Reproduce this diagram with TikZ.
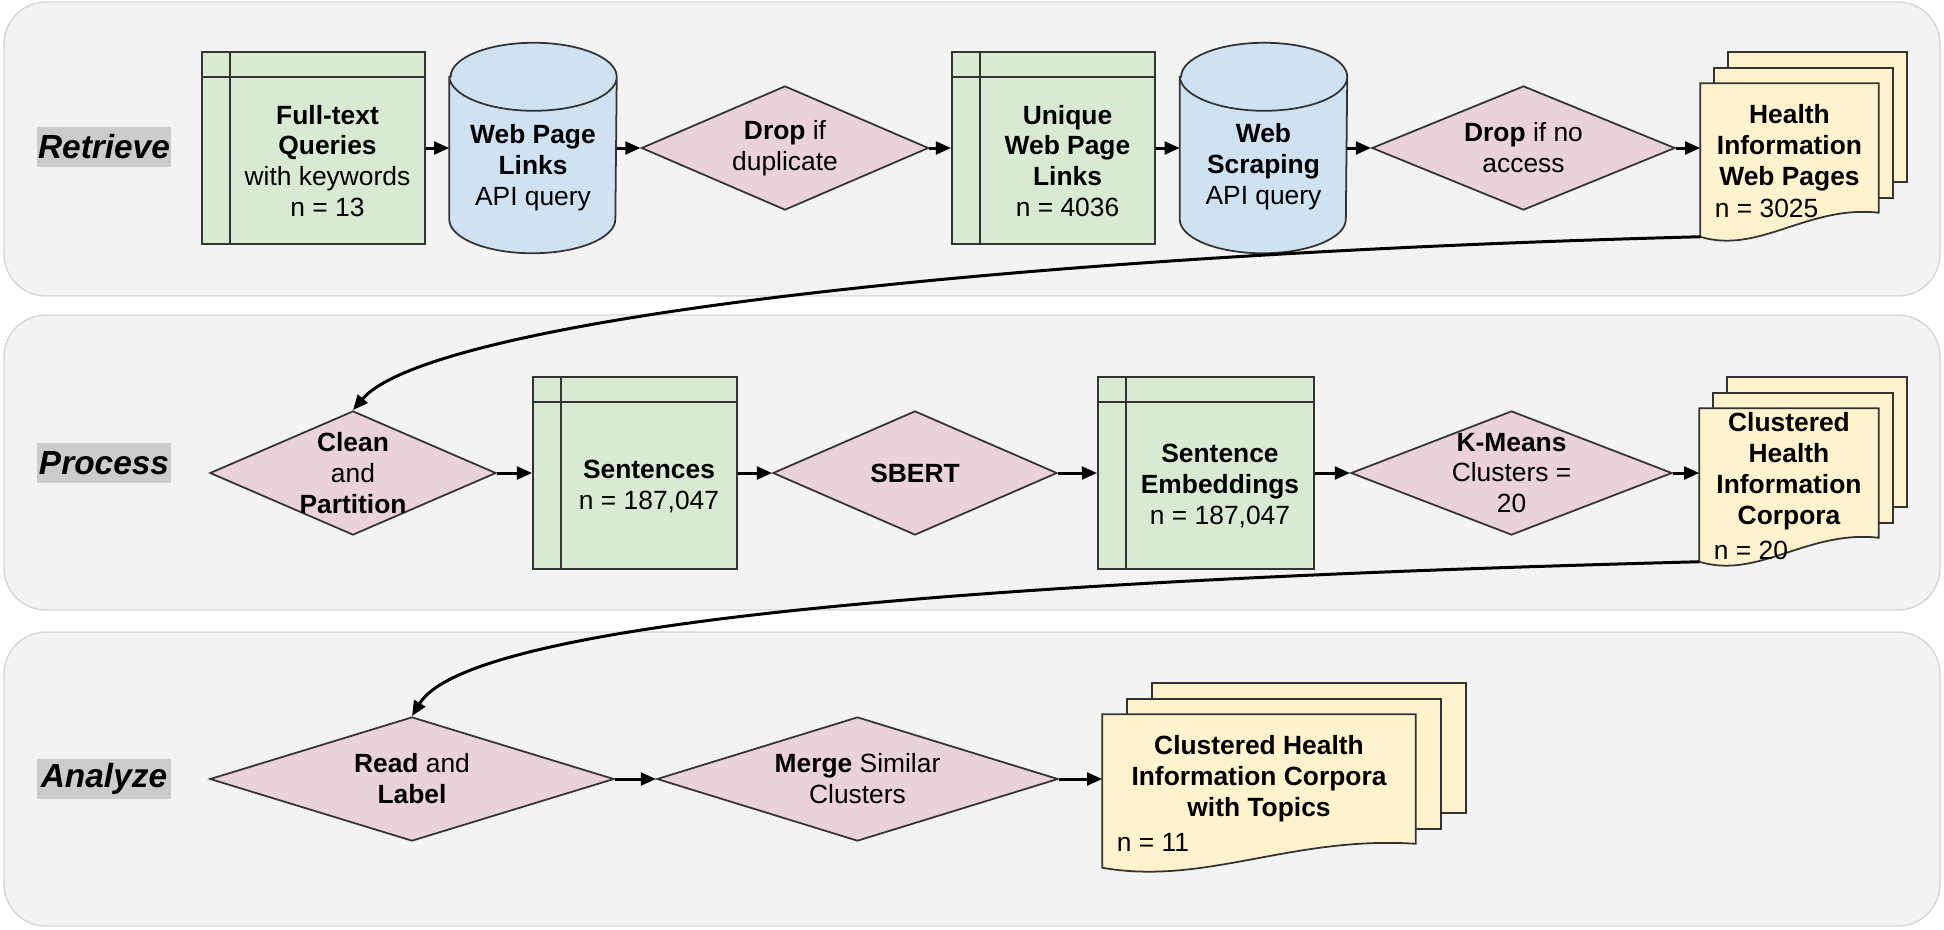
\documentclass[tikz,border=0pt]{standalone}
\usepackage{fontspec}
\setmainfont{Liberation Sans}
\usetikzlibrary{shapes.geometric,arrows.meta,calc}

\definecolor{panelfill}{HTML}{F3F3F3}
\definecolor{panelline}{HTML}{D6D6D6}
\definecolor{stagegray}{HTML}{CCCCCC}
\definecolor{storegreen}{HTML}{D9EAD3}
\definecolor{dbblue}{HTML}{CFE2F3}
\definecolor{droppink}{HTML}{EAD1DC}
\definecolor{docyellow}{HTML}{FFF2CC}
\definecolor{edgegray}{HTML}{333333}

\begin{document}
\begin{tikzpicture}[x=0.01cm, y=-0.01cm, font=\fontsize{7.5}{8.8}\selectfont,
		shapeline/.style={draw=edgegray, line width=0.5pt},
		stage/.style={fill=stagegray, inner sep=0pt, minimum width=1.34cm, minimum height=0.40cm, font=\fontsize{9.5}{11}\selectfont\bfseries\itshape},
		store/.style={shapeline, fill=storegreen, inner sep=0pt, minimum height=1.92cm,
			path picture={\draw[shapeline] ([xshift=0.28cm]path picture bounding box.north west) -- ([xshift=0.28cm]path picture bounding box.south west)
				([yshift=-0.25cm]path picture bounding box.north west) -- ([yshift=-0.25cm]path picture bounding box.north east);}},
		dbbox/.style={inner sep=0pt, minimum width=1.66cm, minimum height=2.09cm},
		drop/.style={shape=diamond, shapeline, fill=droppink, inner sep=0pt, minimum height=1.24cm},
		docbox/.style={inner sep=0pt, minimum height=1.28cm},
		page/.style={shapeline, fill=docyellow},
		txt/.style={align=center},
		title/.style={align=center, font=\fontsize{7.5}{8.8}\selectfont\bfseries},
		count/.style={anchor=west, inner sep=0pt},
		flow/.style={-{Triangle[length=4.3pt,width=3.6pt]}, line width=0.85pt}]
	\useasboundingbox (0,0) rectangle (1944,929);
	\foreach \top/\bot in {2/296, 315/610, 632/926}
		\filldraw[fill=panelfill, draw=panelline, rounded corners=0.42cm] (4,\top) rectangle (1940,\bot);
	
	\node[stage] (retrieve) at (104,147) {Retrieve};
	\node[stage] (process) at (104,463) {Process};
	\node[stage] (analyze) at (104,779) {Analyze};
	
	\node[store, minimum width=2.23cm] (queries) at (313.5,148) {};
	\node[dbbox] (links) at (533,148) {};
	\node[drop, minimum width=2.87cm] (dup) at (785,148) {};
	\node[store, minimum width=2.03cm] (unique) at (1053.5,148) {};
	\node[dbbox] (scraping) at (1263.5,148) {};
	\node[drop, minimum width=3.03cm] (access) at (1523.5,148) {};
	\node[docbox, minimum width=1.77cm] (pages) at (1789.5,148) {};
	
	\node[drop, minimum width=2.86cm] (clean) at (353,473) {};
	\node[store, minimum width=2.04cm] (sentences) at (635,473) {};
	\node[drop, minimum width=2.84cm] (sbert) at (915,473) {};
	\node[store, minimum width=2.16cm] (embeddings) at (1206,473) {};
	\node[drop, minimum width=3.21cm] (kmeans) at (1511.5,473) {};
	\node[docbox, minimum width=1.78cm] (corpora) at (1789,473) {};
	
	\node[drop, minimum width=4.04cm] (read) at (412,779) {};
	\node[drop, minimum width=4.01cm] (merge) at (857.5,779) {};
	\node[docbox, minimum width=3.12cm] (topics) at (1259,779) {};
	
	\foreach \c in {links, scraping}
		\filldraw[shapeline, fill=dbblue] ([yshift=-0.34cm]\c.north west) -- ([yshift=0.34cm]\c.south west)
			arc[start angle=180, end angle=360, x radius=0.83cm, y radius=0.34cm] -- ([yshift=-0.34cm]\c.north east)
			arc[start angle=0, end angle=180, x radius=0.83cm, y radius=0.34cm] -- cycle
			arc[start angle=180, end angle=360, x radius=0.83cm, y radius=0.34cm];
	
	\foreach \d/\dx in {pages/14, corpora/14, topics/25} {
		\filldraw[page] ([shift={(2*\dx,-31)}]\d.north west) rectangle ([shift={(2*\dx,-31)}]\d.south east);
		\filldraw[page] ([shift={(\dx,-15)}]\d.north west) rectangle ([shift={(\dx,-15)}]\d.south east);
		\filldraw[page] (\d.north west) -- (\d.north east) -- (\d.south east)
			.. controls ($(\d.south west)!0.6!(\d.south east)+(0,-8)$) and ($(\d.south west)!0.33!(\d.south east)+(0,42)$) .. ($(\d.south west)+(0,24)$) -- cycle;
	}
	
	\foreach \a/\b in {queries/links, links/dup, dup/unique, unique/scraping, scraping/access, access/pages,
		clean/sentences, sentences/sbert, sbert/embeddings, embeddings/kmeans, kmeans/corpora, read/merge, merge/topics}
		\draw[flow] (\a) -- (\b);
	\draw[flow] ($(pages.south west)+(0,24)$) .. controls (1000,255) and (430,320) .. (clean.north);
	\draw[flow] ($(corpora.south west)+(0,24)$) .. controls (1000,580) and (470,620) .. (read.north);
	
	\node[txt] (queriestxt) at ([shift={(14,13)}]queries.center) {\textbf{Full-text}\\\textbf{Queries}\\with keywords\\n = 13};
	\node[txt] (linkstxt) at ([yshift=-0.2cm]links.center) {\textbf{Web Page}\\\textbf{Links}\\API query};
	\node[txt] (duptxt) at (dup) {\textbf{Drop} if\\duplicate};
	\node[txt] (uniquetxt) at ([shift={(14,13)}]unique.center) {\textbf{Unique}\\\textbf{Web Page}\\\textbf{Links}\\n = 4036};
	\node[txt] (scrapingtxt) at ([yshift=-0.19cm]scraping.center) {\textbf{Web}\\\textbf{Scraping}\\API query};
	\node[txt] (accesstxt) at (access) {\textbf{Drop} if no\\access};
	\node[title] (pagestxt) at (pages) {Health\\Information\\Web Pages};
	\node[count] (pagesn) at ([shift={(14,60)}]pages.west) {n = 3025};
	
	\node[txt] (cleantxt) at (clean) {\textbf{Clean}\\and\\\textbf{Partition}};
	\node[txt] (sentencestxt) at ([shift={(14,13)}]sentences.center) {\textbf{Sentences}\\n = 187,047};
	\node[title] (sberttxt) at (sbert) {SBERT};
	\node[txt] (embeddingstxt) at ([shift={(14,13)}]embeddings.center) {\textbf{Sentence}\\\textbf{Embeddings}\\n = 187,047};
	\node[txt] (kmeanstxt) at (kmeans) {\textbf{K-Means}\\Clusters =\\20};
	\node[title] (corporatxt) at ([yshift=0.02cm]corpora.center) {Clustered\\Health\\Information\\Corpora};
	\node[count] (corporan) at ([shift={(14,77)}]corpora.west) {n = 20};
	
	\node[txt] (readtxt) at (read) {\textbf{Read} and\\\textbf{Label}};
	\node[txt] (mergetxt) at (merge) {\textbf{Merge} Similar\\Clusters};
	\node[title] (topicstxt) at (topics) {Clustered Health\\Information Corpora\\with Topics};
	\node[count] (topicsn) at ([shift={(14,63)}]topics.west) {n = 11};
\end{tikzpicture}
\end{document}
